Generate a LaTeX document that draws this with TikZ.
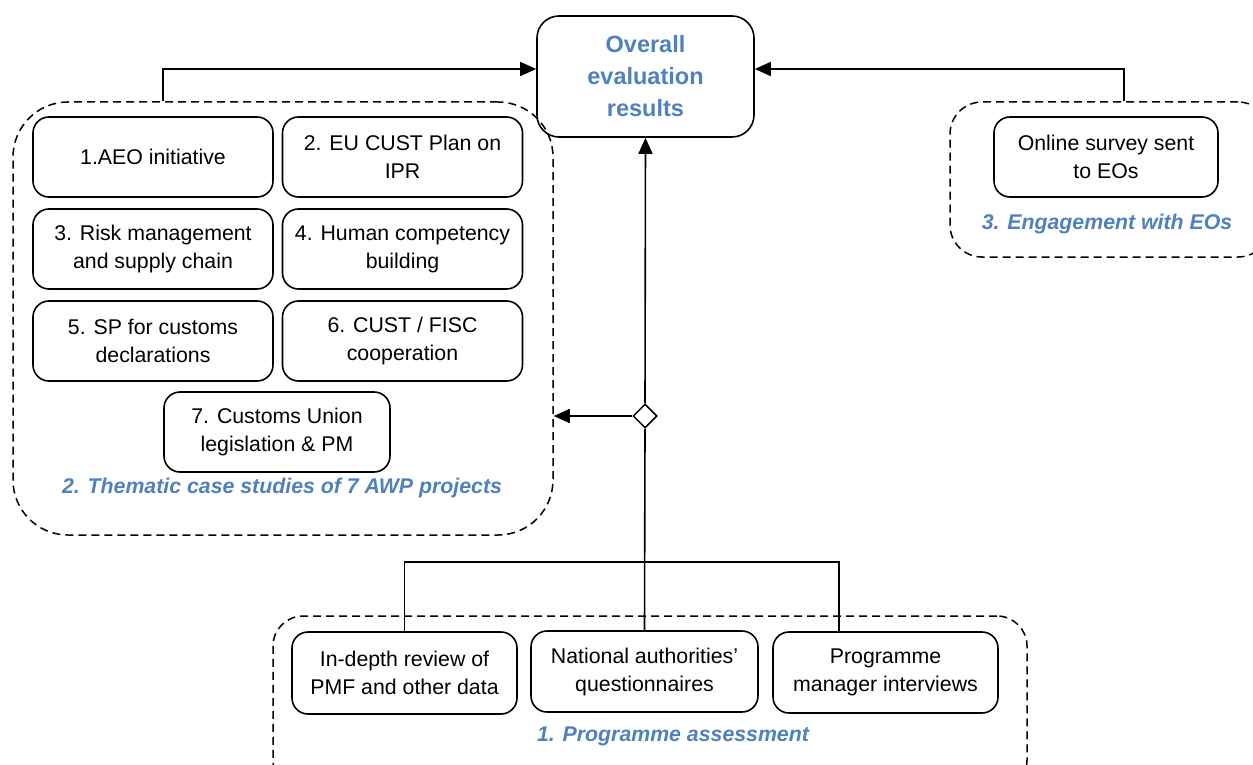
\documentclass[tikz,border=0pt]{standalone}
\usepackage{fontspec}
\setmainfont{Liberation Sans}
\usetikzlibrary{positioning, shapes.geometric, arrows.meta}
\definecolor {titleblue}{RGB}{79,129,189}

\begin{document}
\begin{tikzpicture}[->, >={Triangle[length=16pt,width=14pt]}, x=1pt, y=-1pt, line width=1.6pt,
            task/.style ={rectangle, rounded corners=16pt, draw, black, text=black, align=center,
            minimum width=240pt, minimum height=80pt, inner sep=2pt,
            font=\fontsize{21.3}{28}\selectfont},
            group/.style ={rectangle, rounded corners=#1, draw, dashed, dash pattern=on 8pt off 5pt,
            line width=1.5pt},
            grouplabel/.style ={text=titleblue, font=\fontsize{21.3}{26}\selectfont\bfseries\itshape},
            result/.style ={rectangle, rounded corners=22pt, draw, align=center, text=titleblue,
            minimum width=217pt, minimum height=121pt, font=\fontsize{23.5}{32}\selectfont\bfseries},
            junction/.style ={diamond, draw, fill=white, minimum size=24pt, inner sep=0pt, line width=1.5pt}]

            \useasboundingbox (0,0) rectangle (1253,765);

            %contenedores punteados
            \node[group=55pt, minimum width=540pt, minimum height=433pt] (thematic) at (283, 318.5) {};
            \node[group=32pt, minimum width=320pt, minimum height=155pt] (engage) at (1110, 179.5) {};
            \node[group=30pt, minimum width=754pt, minimum height=174pt] (assess) at (650, 703) {};

            \node[result] (overall) at (645.5, 76.5) {Overall\\evaluation\\results};

            \node[task] (p1) at (153, 157) {1.AEO initiative};
            \node[task] (p2) at (402.5, 157) {2. EU CUST Plan on\\IPR};
            \node[task] (p3) at (153, 249) {3. Risk management\\and supply chain};
            \node[task] (p4) at (402.5, 249) {4. Human competency\\building};
            \node[task] (p5) at (153, 341) {5. SP for customs\\declarations};
            \node[task] (p6) at (402.5, 341) {6. CUST / FISC\\cooperation};
            \node[task, minimum width=226pt] (p7) at (277, 432) {7. Customs Union\\legislation \& PM};
            \node[grouplabel] (thematiclabel) at (282, 488) {2. Thematic case studies of 7 AWP projects};

            \node[task, minimum width=224pt] (survey) at (1106, 157) {Online survey sent\\to EOs};
            \node[grouplabel] (engagelabel) at (1107, 224) {3. Engagement with EOs};

            \node[task, minimum width=225pt, minimum height=82pt] (review) at (404.5, 673) {In-depth review of\\PMF and other data};
            \node[task, minimum width=227pt, minimum height=81pt] (quest) at (644.5, 671.5) {National authorities’\\questionnaires};
            \node[task, minimum width=225pt, minimum height=81pt] (manager) at (885.5, 672.5) {Programme\\manager interviews};
            \node[grouplabel] (assesslabel) at (673, 736) {1. Programme assessment};

            \node[junction] (dia) at (645, 416) {};
            \coordinate (bus) at (644.5, 562);

            \draw ([xshift=-120pt]thematic.north) |- ([yshift=7.5pt]overall.west);
            \draw ([xshift=14pt]engage.north) |- ([yshift=7.5pt]overall.east);
            \draw (dia.north) -- (overall.south);
            \draw (dia.west) -- (dia.west -| thematic.east);

            \draw[-] (quest.north) -- (dia.south);
            \draw[-] (review.north) |- (bus) -| ([xshift=-46.5pt]manager.north);
\end{tikzpicture}
\end{document}
